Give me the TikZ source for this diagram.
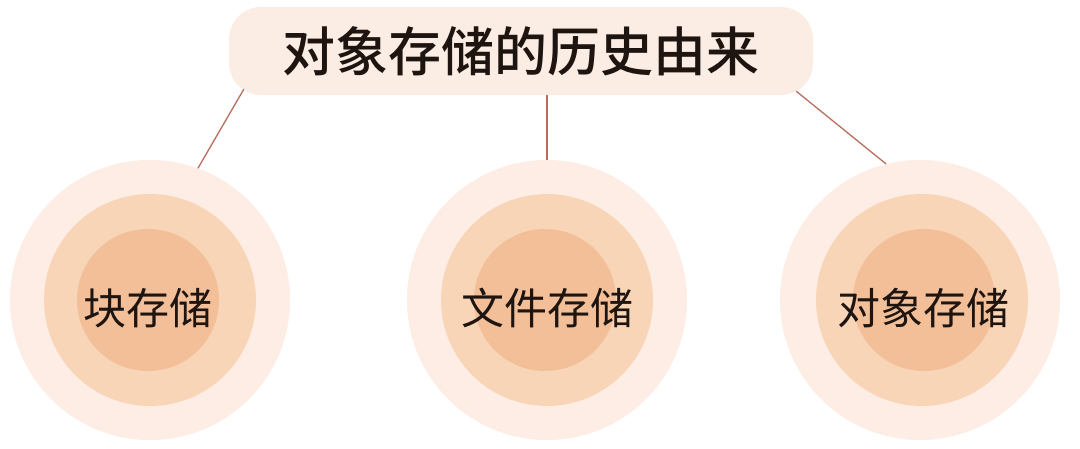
\documentclass[tikz,border=0pt]{standalone}
\usepackage{fontspec}
\newfontfamily\cjk{Noto Sans CJK SC}
\newfontfamily\cjkb{Noto Sans CJK SC Medium}
\usetikzlibrary{calc}
\definecolor{ringA}{HTML}{FDEDE5}
\definecolor{ringB}{HTML}{F9D5B8}
\definecolor{ringC}{HTML}{F2BF98}
\definecolor{titlebg}{HTML}{FBEDE4}
\definecolor{linkc}{HTML}{B86E5E}
\definecolor{txt}{HTML}{1E1410}
\tikzset{
  outerring/.style={circle, fill=ringA, draw=none, minimum size=280pt, inner sep=0pt},
  midring/.style={circle, fill=ringB, draw=none, minimum size=212pt, inner sep=0pt},
  innerring/.style={circle, fill=ringC, draw=none, minimum size=142pt, inner sep=0pt},
  lbl/.style={font=\cjk\fontsize{43pt}{50pt}\selectfont, text=txt, inner sep=0pt},
  titlebox/.style={rectangle, rounded corners=32pt, fill=titlebg, minimum width=584pt, minimum height=88pt, inner sep=0pt, font=\cjkb\fontsize{53pt}{60pt}\selectfont, text=txt},
  link/.style={draw=linkc, line width=1.3pt}
}
\begin{document}
\begin{tikzpicture}[x=1pt,y=-1pt]
\useasboundingbox[fill=white] (0,0) rectangle (1080,449);
\node[titlebox] (title) at (521,51) {对象存储的历史由来};
% circles
\node[outerring] (c1) at (150,300) {};
\node[midring] (m1) at (150,300) {};
\node[innerring] (i1) at (148,300) {};
\node[lbl] (t1) at (148,308) {块存储};
\node[outerring] (c2) at (547,300) {};
\node[midring] (m2) at (547,300) {};
\node[innerring] (i2) at (545,300) {};
\node[lbl] (t2) at (547,308) {文件存储};
\node[outerring] (c3) at (920,300) {};
\node[midring] (m3) at (922,300) {};
\node[innerring] (i3) at (924,300) {};
\node[lbl] (t3) at (923,308) {对象存储};
% connectors
\coordinate (s1) at ($(title.south west)+(15,-6)$);
\coordinate (s2) at ($(title.south)+(26,0)$);
\coordinate (s3) at ($(title.south east)+(-17,-4)$);
\draw[link] (s1) -- (c1.70);
\draw[link] (s2) -- (c2.north);
\draw[link] (s3) -- (c3.104);
\end{tikzpicture}
\end{document}
